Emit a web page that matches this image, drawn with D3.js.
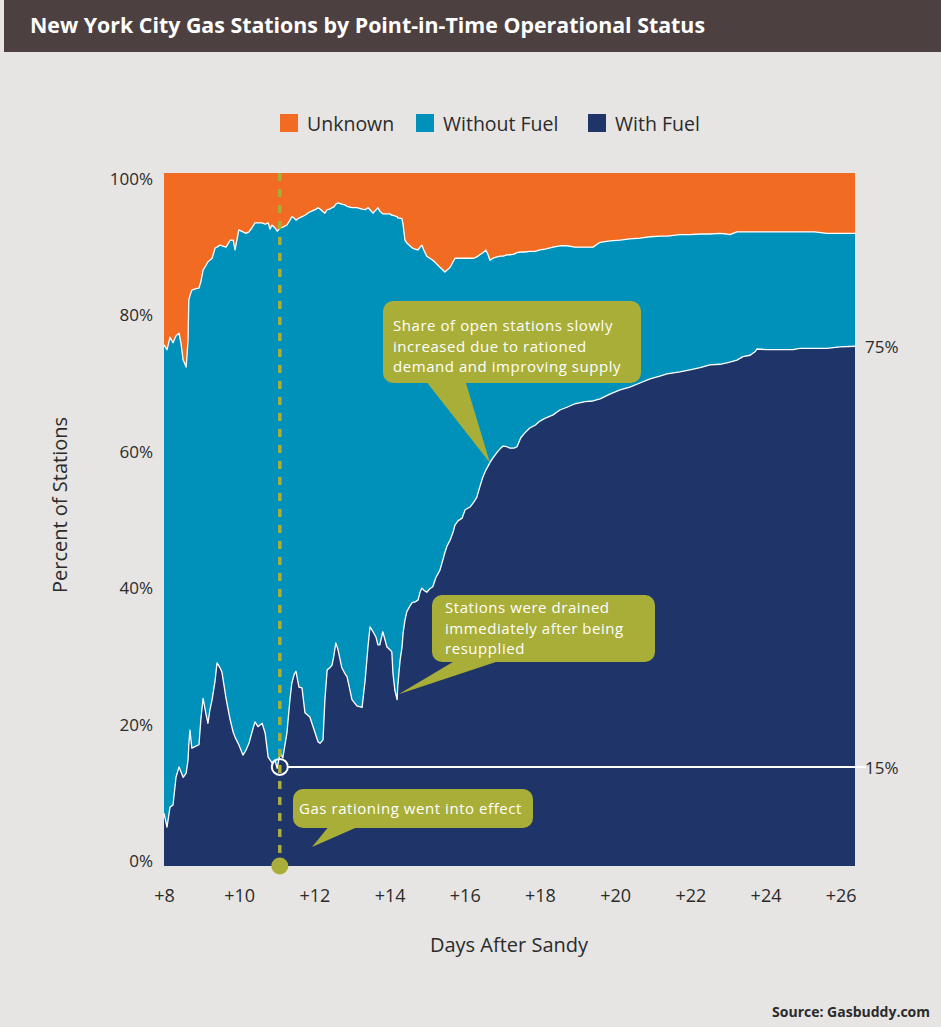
<!DOCTYPE html>
<html><head><meta charset="utf-8">
<script src="https://cdn.jsdelivr.net/npm/d3@7"></script>
<style>
body{margin:0;background:#e6e5e3;}
svg{display:block;font-family:"Open Sans",sans-serif;}
</style>
</head><body>
<svg id="chart" width="941" height="1027"></svg>
<script>
// ---- data (days after Sandy, percent of stations) ----
const days = [8.00,8.08,8.16,8.24,8.32,8.40,8.45,8.51,8.59,8.64,8.66,8.69,8.74,8.85,8.93,8.98,9.04,9.12,9.17,9.22,9.28,9.36,9.41,9.49,9.54,9.65,9.76,9.84,9.89,9.99,
10.10,10.18,10.26,10.34,10.42,10.50,10.61,10.69,10.77,10.82,10.87,10.95,11.01,11.09,11.16,11.27,11.35,11.40,11.46,11.51,11.59,11.67,11.75,11.88,
12.02,12.10,12.15,12.23,12.28,12.34,12.41,12.47,12.52,12.57,12.63,12.73,12.81,12.87,13.00,13.13,13.27,13.35,13.43,13.48,13.56,13.64,13.69,13.74,13.82,13.93,
14.01,14.06,14.09,14.14,14.20,14.22,14.28,14.33,14.36,14.41,14.46,14.54,14.60,14.68,14.76,14.81,14.86,14.91,14.99,15.07,15.15,15.23,15.34,15.42,15.47,15.53,15.61,15.69,15.74,15.82,15.93,
16.01,16.14,16.24,16.32,16.40,16.48,16.56,16.62,16.67,16.75,16.86,16.94,17.02,17.12,17.20,17.31,17.39,17.49,17.60,17.73,17.87,18.00,18.13,18.35,18.53,18.72,18.93,
19.20,19.41,19.60,19.86,20.13,20.39,20.66,20.93,21.19,21.38,21.72,21.99,22.26,22.52,22.79,22.97,23.05,23.24,23.40,23.59,23.72,23.77,24.04,24.38,24.73,24.91,25.31,25.63,25.98,26.38];

const withFuel = [7.6,5.6,8.5,8.8,12.8,14.3,13.6,12.8,13.4,15.3,17.5,19.6,17.0,17.3,17.5,21.1,24.2,21.8,20.6,22.5,24.0,26.8,29.3,28.6,28.0,24.2,21.1,19.3,18.6,17.5,
16.0,16.7,17.7,19.3,20.8,20.1,20.6,19.2,15.7,15.3,14.9,15.3,14.1,16.3,15.6,19.2,24.0,26.4,27.6,28.1,25.8,25.7,22.1,21.5,
19.2,17.9,17.7,18.2,24.0,28.3,28.6,29.0,30.4,32.2,31.2,28.6,27.8,27.3,24.0,23.1,22.9,26.8,31.9,34.5,33.8,33.0,31.9,31.9,33.8,31.6,
31.2,30.9,27.8,25.4,24.0,26.1,29.7,31.5,33.6,35.5,36.7,37.5,38.0,38.1,38.4,39.5,40.1,39.8,39.5,40.0,40.3,41.6,42.7,44.2,45.2,46.2,47.0,48.2,49.2,49.8,50.2,
51.4,51.8,52.5,53.2,54.7,56.1,57.1,57.7,58.2,58.9,59.7,60.2,60.6,60.5,60.3,60.3,60.5,61.8,62.5,63.2,63.6,64.2,64.6,65.1,65.8,66.2,66.7,
67.0,67.1,67.4,68.1,68.7,69.1,69.7,70.3,70.7,71.0,71.3,71.6,71.9,72.3,72.4,72.6,72.7,73.0,73.5,73.7,74.2,74.6,74.5,74.5,74.5,74.7,74.7,74.7,74.9,75.0];

const withoutFuel = [67.6,68.9,67.8,66.7,63.7,62.6,61.9,60.2,58.6,60.6,64.2,62.7,66.1,66.0,65.9,63.2,61.8,64.9,66.6,64.9,63.7,62.4,60.0,61.0,61.5,65.1,69.2,71.0,70.3,74.3,
75.5,74.6,73.8,72.8,72.0,72.7,72.2,73.4,77.1,76.6,77.6,76.8,77.5,75.8,76.6,73.3,69.2,67.3,65.9,65.1,67.7,68.0,71.8,72.9,
75.5,77.1,77.1,76.2,70.2,66.4,66.2,66.0,64.7,63.3,64.5,66.9,67.6,67.9,71.0,71.9,71.9,67.9,63.1,60.2,60.4,61.7,63.1,62.6,60.3,62.5,
62.9,63.0,66.1,68.4,69.7,67.4,63.8,61.9,58.9,54.8,53.2,52.0,51.2,50.9,50.5,49.8,49.5,49.1,48.5,47.7,47.1,45.4,43.7,41.8,40.5,39.8,39.4,39.0,38.5,37.9,37.5,
36.3,35.9,35.2,34.7,33.5,32.4,31.8,30.5,29.2,28.8,28.2,27.8,27.4,27.7,27.9,28.0,28.0,26.8,26.1,25.5,25.1,24.7,24.4,24.2,23.7,23.3,22.6,
22.3,22.2,22.6,22.1,21.6,21.4,20.9,20.5,20.2,19.9,19.8,19.5,19.3,18.9,18.9,18.6,18.4,18.5,18.0,17.8,17.3,16.9,17.0,17.0,17.0,16.8,16.8,16.6,16.4,16.3];

const unknown = [24.8,25.5,23.7,24.5,23.5,23.1,24.5,27.0,28.0,24.1,18.3,17.7,16.9,16.7,16.6,15.7,14.0,13.3,12.8,12.6,12.3,10.8,10.7,10.4,10.5,10.7,9.7,9.7,11.1,8.2,
8.5,8.7,8.5,7.9,7.2,7.2,7.2,7.4,7.2,8.1,7.5,7.9,8.4,7.9,7.8,7.5,6.8,6.3,6.5,6.8,6.5,6.3,6.1,5.6,
5.3,5.0,5.2,5.6,5.8,5.3,5.2,5.0,4.9,4.5,4.3,4.5,4.6,4.8,5.0,5.0,5.2,5.3,5.0,5.3,5.8,5.3,5.0,5.5,5.9,5.9,
5.9,6.1,6.1,6.2,6.3,6.5,6.5,6.6,7.5,9.7,10.1,10.5,10.8,11.0,11.1,10.7,10.4,11.1,12.0,12.3,12.6,13.0,13.6,14.0,14.3,14.0,13.6,12.8,12.3,12.3,12.3,
12.3,12.3,12.3,12.1,11.8,11.5,11.1,11.8,12.6,12.3,12.1,12.0,12.0,11.8,11.8,11.7,11.5,11.4,11.4,11.3,11.3,11.1,11.0,10.7,10.5,10.5,10.7,
10.7,10.7,10.0,9.8,9.7,9.5,9.4,9.2,9.1,9.1,8.9,8.9,8.8,8.8,8.7,8.8,8.9,8.5,8.5,8.5,8.5,8.5,8.5,8.5,8.5,8.5,8.5,8.7,8.7,8.7];

const seriesKeys = ["With Fuel", "Without Fuel", "Unknown"];
const legendKeys = ["Unknown", "Without Fuel", "With Fuel"];
const xTickValues = [8, 10, 12, 14, 16, 18, 20, 22, 24, 26];
const yTickValues = [0, 20, 40, 60, 80, 100];
const rationingDay = 11.08;
const rationingLevel = 14.3;
const endLabels = [{value: 75, text: "75%"}, {value: 14.3, text: "15%"}];
const notes = [
  ["Share of open stations slowly", "increased due to rationed", "demand and improving supply"],
  ["Stations were drained", "immediately after being", "resupplied"],
  ["Gas rationing went into effect"]
];

(function () {
// ---- styles ----
const colors = {"Unknown": "#f26b23", "Without Fuel": "#0091bb", "With Fuel": "#1f3468"};
const olive = "#a9ae38";
const textColor = "#2b2b2b";

const svg = d3.select("#chart");
svg.append("rect").attr("width", 941).attr("height", 1027).attr("fill", "#e6e5e3");
svg.append("rect").attr("x", 4).attr("y", 0).attr("width", 937).attr("height", 52).attr("fill", "#4d4040");
svg.append("text").attr("x", 30).attr("y", 33).attr("fill", "#fff")
  .attr("font-size", 21).attr("font-weight", 700)
  .attr("textLength", 675).attr("lengthAdjust", "spacingAndGlyphs")
  .text("New York City Gas Stations by Point-in-Time Operational Status");

const pLeft = 164, pRight = 855, pTop = 173, pBottom = 866;
const x = d3.scaleLinear().domain([8, 26.38]).range([pLeft, pRight]);
const y = d3.scaleLinear().domain([0, 100]).range([pBottom, pTop]);
const yLab = d3.scaleLinear().domain([0, 100]).range([861, 179]);

const rows = days.map((d, i) => ({day: d, "With Fuel": withFuel[i], "Without Fuel": withoutFuel[i], "Unknown": unknown[i]}));
const stacked = d3.stack().keys(seriesKeys)(rows);

const area = d3.area().x(d => x(d.data.day)).y0(d => y(d[0])).y1(d => y(d[1]));
const g = svg.append("g");
g.selectAll("path.layer").data(stacked).join("path")
  .attr("class", "layer")
  .attr("fill", s => colors[s.key])
  .attr("d", s => s.key === "Unknown"
    ? d3.area().x(d => x(d.data.day)).y0(d => y(d[0])).y1(() => y(100))(s)
    : area(s));

const line = d3.line().x(d => x(d.data.day)).y(d => y(d[1]));
[0, 1].forEach(k => {
  g.append("path").attr("fill", "none").attr("stroke", "#fff").attr("stroke-width", 1.3)
    .attr("stroke-linejoin", "round").attr("d", line(stacked[k]));
});

// legend
const legX = [280, 416, 588];
legendKeys.forEach((k, i) => {
  svg.append("rect").attr("x", legX[i]).attr("y", 114).attr("width", 18).attr("height", 18).attr("fill", colors[k]);
  svg.append("text").attr("x", legX[i] + 27).attr("y", 131).attr("font-size", 19.5).attr("fill", textColor).text(k);
});

// y axis labels
svg.append("g").selectAll("text").data(yTickValues).join("text")
  .attr("x", 153).attr("y", d => yLab(d) + 6).attr("text-anchor", "end")
  .attr("font-size", 17).attr("fill", textColor).text(d => d + "%");

// x axis
const xAxis = d3.axisBottom(x).tickValues(xTickValues).tickSize(0).tickPadding(0).tickFormat(d => "+" + d);
const xg = svg.append("g").attr("transform", `translate(0,${pBottom + 36})`).call(xAxis);
xg.select(".domain").remove();
xg.selectAll("text").attr("font-size", 18).attr("fill", textColor).attr("font-family", "Open Sans, sans-serif").attr("dy", 0);

svg.append("text").attr("transform", "translate(67,505) rotate(-90)").attr("text-anchor", "middle")
  .attr("font-size", 20).attr("fill", textColor).text("Percent of Stations");
svg.append("text").attr("x", 509).attr("y", 952).attr("text-anchor", "middle")
  .attr("font-size", 20).attr("fill", textColor).text("Days After Sandy");
svg.append("text").attr("x", 930).attr("y", 1017).attr("text-anchor", "end")
  .attr("font-size", 14).attr("font-weight", 700).attr("fill", textColor).text("Source: Gasbuddy.com");

// rationing marker
const rx = x(rationingDay), ry = y(rationingLevel);
svg.append("line").attr("x1", rx + 8).attr("x2", 866).attr("y1", ry).attr("y2", ry)
  .attr("stroke", "#fff").attr("stroke-width", 2);
svg.append("line").attr("x1", rx).attr("x2", rx).attr("y1", pTop).attr("y2", pBottom)
  .attr("stroke", olive).attr("stroke-width", 3.5).attr("stroke-dasharray", "8,8");
svg.append("circle").attr("cx", rx).attr("cy", ry).attr("r", 8).attr("fill", "none")
  .attr("stroke", "#fff").attr("stroke-width", 2);
svg.append("circle").attr("cx", rx).attr("cy", pBottom).attr("r", 8.5).attr("fill", olive);

// end labels
endLabels.forEach(l => {
  svg.append("text").attr("x", 865).attr("y", y(l.value) + 7).attr("font-size", 17)
    .attr("fill", textColor).text(l.text);
});

// callouts
const boxes = [
  {x0: 383, y0: 301, w: 258, h: 82, tail: [[425, 380], [465, 380], [x(16.67), y(58.2)]], tx: 393, ty: 331, lh: 20.5},
  {x0: 432, y0: 595, w: 223, h: 67, tail: [[458, 659], [505, 659], [x(14.24), y(24.8)]], tx: 445, ty: 613, lh: 20.5},
  {x0: 293, y0: 789, w: 240, h: 39, tail: [[330, 825], [362, 825], [312, 847]], tx: 299, ty: 814, lh: 20.5}
];
boxes.forEach((b, i) => {
  const bg = svg.append("g");
  bg.append("path").attr("fill", olive).attr("d", d3.line()(b.tail) + "Z");
  bg.append("rect").attr("x", b.x0).attr("y", b.y0).attr("width", b.w).attr("height", b.h)
    .attr("rx", 10).attr("fill", olive);
  notes[i].forEach((s, j) => {
    bg.append("text").attr("x", b.tx).attr("y", b.ty + j * b.lh).attr("font-size", 15)
      .attr("letter-spacing", 0.55).attr("fill", "#fff").text(s);
  });
});
})();
</script>
</body></html>
